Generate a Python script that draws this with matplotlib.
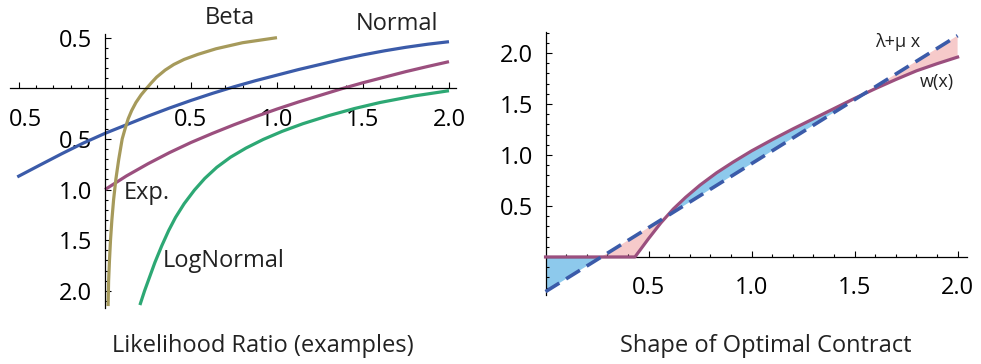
import matplotlib

matplotlib.use("Agg")
import matplotlib.pyplot as plt
import numpy as np
from matplotlib.ticker import FixedLocator

plt.rcParams["font.family"] = ["Open Sans", "DejaVu Sans"]

# left panel: likelihood ratio examples
normal_x = [-0.51, -0.375, -0.25, -0.125, 0.0, 0.125, 0.25, 0.375, 0.5, 0.625, 0.75,
            0.875, 1.0, 1.125, 1.25, 1.375, 1.5, 1.625, 1.75, 1.875, 2.0]
normal_y = [-0.875, -0.755, -0.645, -0.54, -0.445, -0.36, -0.275, -0.195, -0.12, -0.05,
            0.015, 0.075, 0.13, 0.185, 0.235, 0.285, 0.33, 0.37, 0.405, 0.435, 0.46]

exp_x = [0.0, 0.125, 0.25, 0.375, 0.5, 0.625, 0.75, 0.875, 1.0, 1.125, 1.25, 1.375, 1.5,
         1.625, 1.75, 1.875, 2.0]
exp_y = [-1.0, -0.865, -0.745, -0.635, -0.535, -0.445, -0.36, -0.28, -0.205, -0.135,
         -0.07, -0.005, 0.055, 0.11, 0.165, 0.215, 0.263]

beta_x = [0.018, 0.021, 0.026, 0.032, 0.04, 0.05, 0.063, 0.08, 0.09, 0.10, 0.115, 0.135,
          0.155, 0.18, 0.21, 0.242, 0.27, 0.3, 0.35, 0.4, 0.46, 0.54, 0.645, 0.8, 1.0]
beta_y = [-2.15, -1.9, -1.7, -1.5, -1.3, -1.1, -0.9, -0.7, -0.6, -0.5, -0.41, -0.3,
          -0.22, -0.14, -0.065, 0.0, 0.055, 0.11, 0.18, 0.235, 0.285, 0.335, 0.39, 0.45, 0.5]

lognormal_x = [0.203, 0.23, 0.26, 0.29, 0.33, 0.37, 0.41, 0.46, 0.52, 0.58, 0.65, 0.73,
               0.82, 0.92, 1.03, 1.15, 1.3, 1.45, 1.6, 1.8, 2.0]
lognormal_y = [-2.14, -2.0, -1.86, -1.72, -1.555, -1.405, -1.275, -1.14, -1.005, -0.89,
               -0.78, -0.68, -0.59, -0.505, -0.425, -0.35, -0.27, -0.2, -0.14, -0.075, -0.024]

left_xticks = [-0.5, 0.5, 1.0, 1.5, 2.0]
left_xlabels = ["0.5", "0.5", "1.0", "1.5", "2.0"]
left_yticks = [0.5, -0.5, -1.0, -1.5, -2.0]
left_ylabels = ["0.5", "0.5", "1.0", "1.5", "2.0"]

# right panel: optimal contract w(x) against the line lambda + mu x
lam, mu = -0.34, 1.255
w_x = [0.0, 0.434, 0.5, 0.56, 0.62, 0.68, 0.75, 0.83, 0.91, 1.0, 1.1, 1.2, 1.3, 1.4,
       1.5, 1.6, 1.7, 1.8, 1.9, 2.0]
w_y = [0.0, 0.0, 0.18, 0.335, 0.47, 0.585, 0.705, 0.825, 0.93, 1.04, 1.15, 1.255, 1.355,
       1.455, 1.555, 1.65, 1.74, 1.825, 1.895, 1.96]

right_xticks = [0.5, 1.0, 1.5, 2.0]
right_yticks = [0.5, 1.0, 1.5, 2.0]

BLUE = "#3b5ba9"
PURPLE = "#9b4f7e"
OLIVE = "#a69a5b"
GREEN = "#2da874"
FILL_BLUE = "#8dc9ec"
FILL_PINK = "#f6caca"
TEXT = "#222222"


def style_axes(ax, xmajor, xminor, ymajor, yminor):
    for side in ("top", "right"):
        ax.spines[side].set_visible(False)
    ax.spines["left"].set_position(("data", 0))
    ax.spines["bottom"].set_position(("data", 0))
    for side in ("left", "bottom"):
        ax.spines[side].set_linewidth(0.9)
    ax.xaxis.set_major_locator(FixedLocator(xmajor))
    ax.xaxis.set_minor_locator(FixedLocator(xminor))
    ax.yaxis.set_major_locator(FixedLocator(ymajor))
    ax.yaxis.set_minor_locator(FixedLocator(yminor))
    ax.tick_params(which="both", direction="in", width=0.8, labelsize=17)
    ax.tick_params(which="major", length=4.5)
    ax.tick_params(which="minor", length=2.5)
    ax.tick_params(axis="x", which="major", pad=14)
    ax.tick_params(axis="y", which="major", pad=9)
    ax.patch.set_alpha(0)


fig = plt.figure(figsize=(9.81, 3.64), dpi=100)

# ---- left panel
ax1 = fig.add_axes([0.0106, 0.1536, 0.4541, 0.7541])
ax1.set_xlim(-0.55, 2.04)
ax1.set_ylim(-2.17, 0.54)
ax1.plot(normal_x, normal_y, color=BLUE, lw=2.3, solid_capstyle="butt")
ax1.plot(exp_x, exp_y, color=PURPLE, lw=2.3, solid_capstyle="butt")
ax1.plot(lognormal_x, lognormal_y, color=GREEN, lw=2.3, solid_capstyle="butt")
ax1.plot(beta_x, beta_y, color=OLIVE, lw=2.3, solid_capstyle="butt")

x_minor = [v for v in np.round(np.arange(-0.5, 2.01, 0.1), 2) if v not in left_xticks and v != 0]
y_minor = [v for v in np.round(np.arange(-2.1, 0.51, 0.1), 2) if v not in left_yticks and v != 0]
style_axes(ax1, left_xticks, x_minor, left_yticks, y_minor)
ax1.set_xticklabels(left_xlabels)
ax1.set_yticklabels(left_ylabels)
# the label at -0.5 sits a little right of its tick (missing minus sign)
tick0 = ax1.xaxis.get_major_ticks()[0]
tick0.label1.set_transform(tick0.label1.get_transform()
                           + matplotlib.transforms.ScaledTranslation(7 / 100, 0, fig.dpi_scale_trans))

ax1.text(0.727, 0.694, "Beta", fontsize=17, color=TEXT, ha="center", va="center", clip_on=False)
ax1.text(1.70, 0.635, "Normal", fontsize=17, color=TEXT, ha="center", va="center", clip_on=False)
ax1.text(0.241, -1.035, "Exp.", fontsize=17, color=TEXT, ha="center", va="center")
ax1.text(0.692, -1.71, "LogNormal", fontsize=17, color=TEXT, ha="center", va="center")

# ---- right panel
ax2 = fig.add_axes([0.5561, 0.1904, 0.4295, 0.7228])
ax2.set_xlim(0, 2.045)
ax2.set_ylim(-0.37, 2.21)
w_x_arr = np.array(w_x)
w_y_arr = np.array(w_y)
line_y = lam + mu * w_x_arr
ax2.fill_between(w_x_arr, w_y_arr, line_y, where=w_y_arr >= line_y, interpolate=True,
                 color=FILL_BLUE, lw=0)
ax2.fill_between(w_x_arr, w_y_arr, line_y, where=w_y_arr <= line_y, interpolate=True,
                 color=FILL_PINK, lw=0)
ax2.plot(w_x, w_y, color=PURPLE, lw=2.3, clip_on=False, zorder=3)
ax2.plot([0, 2.0], [lam, lam + mu * 2.0], color=BLUE, lw=2.6, dashes=(4.5, 2.2),
         clip_on=False, zorder=4)

rx_minor = [v for v in np.round(np.arange(0.1, 2.01, 0.1), 2) if v not in right_xticks]
ry_minor = [v for v in np.round(np.arange(-0.3, 2.21, 0.1), 2) if v not in right_yticks and v != 0]
style_axes(ax2, right_xticks, rx_minor, right_yticks, ry_minor)
ax2.set_xticklabels([f"{v:.1f}" for v in right_xticks])
ax2.set_yticklabels([f"{v:.1f}" for v in right_yticks])

ax2.text(1.711, 2.11, "λ+μ x", fontsize=13, color=TEXT, ha="center", va="center")
ax2.text(1.899, 1.72, "w(x)", fontsize=13, color=TEXT, ha="center", va="center")

fig.text(263 / 981, 1 - 351.5 / 364, "Likelihood Ratio (examples)", fontsize=17, color=TEXT,
         ha="center", va="baseline")
fig.text(766 / 981, 1 - 351.5 / 364, "Shape of Optimal Contract", fontsize=17, color=TEXT,
         ha="center", va="baseline")

fig.savefig("out.png", dpi=100)
